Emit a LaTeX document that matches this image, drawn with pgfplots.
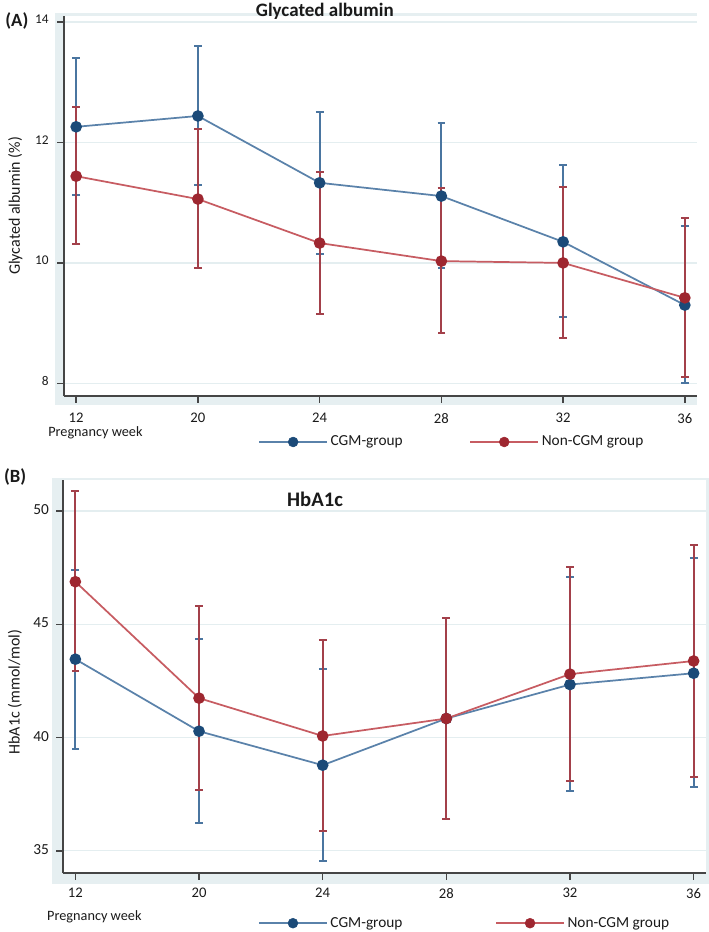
\documentclass[border=0pt]{standalone}
\usepackage{pgfplots}
\pgfplotsset{compat=1.18}
\usepackage{pgfplotstable}
\usepackage{fontspec}
\setmainfont{Carlito}

\definecolor{cgmL}{HTML}{5A82AA}
\definecolor{cgmM}{HTML}{1B4A78}
\definecolor{cgmE}{HTML}{4A75A0}
\definecolor{nonL}{HTML}{C75C62}
\definecolor{nonM}{HTML}{9E2730}
\definecolor{nonE}{HTML}{A3404A}
\definecolor{band}{HTML}{E6EFF1}
\definecolor{gridc}{HTML}{E4EEF0}
\definecolor{axc}{HTML}{454545}
\definecolor{txt}{HTML}{1A1A1A}

% columns: week index, mean, lower, upper
\pgfplotstableread{
x y lo hi
0 12.26 11.13 13.40
1 12.44 11.29 13.60
2 11.33 10.15 12.50
3 11.11 9.91 12.32
4 10.35 9.11 11.62
5 9.30 8.00 10.62
}\gaCGM
\pgfplotstableread{
x y lo hi
0 11.44 10.32 12.59
1 11.06 9.91 12.22
2 10.33 9.16 11.51
3 10.03 8.83 11.25
4 10.00 8.76 11.26
5 9.42 8.11 10.75
}\gaNon
\pgfplotstableread{
x y lo hi
0 43.46 39.49 47.38
1 40.28 36.22 44.37
2 38.78 34.56 43.04
3 40.84 36.40 45.29
4 42.34 37.65 47.08
5 42.84 37.80 47.91
}\hbCGM
\pgfplotstableread{
x y lo hi
0 46.88 42.95 50.87
1 41.74 37.69 45.82
2 40.07 35.87 44.32
3 40.84 36.40 45.29
4 42.80 38.06 47.54
5 43.38 38.28 48.49
}\hbNon

\pgfplotsset{
  panel/.style={
    scale only axis,
    axis x line*=bottom, axis y line*=left,
    axis line style={axc, line width=1.1pt},
    every tick/.style={axc, line width=1.1pt},
    tick align=outside, major tick length=5pt,
    axis background/.style={fill=white},
    ymajorgrids, grid style={gridc, line width=1pt},
    xtick={0,...,5}, xticklabels={12,20,24,28,32,36},
    xmin=-0.1, xmax=5.1,
    /pgf/number format/assume math mode=true,
    tick label style={txt},
    ylabel style={txt, font=\fontsize{12}{14}\selectfont, anchor=center},
    clip=false,
  },
  grp/.style n args={3}{forget plot, color=#1, line width=1.3pt,
    mark=*, mark size=3.7pt, mark options={fill=#2, draw=#2},
    error bars/.cd, y dir=both, y explicit,
    error bar style={color=#3, line width=1.5pt},
    error mark options={color=#3, line width=1.5pt, mark size=2.9pt, rotate=90}},
  table/errtab/.style={x=x, y=y,
    y error plus expr=\thisrow{hi}-\thisrow{y},
    y error minus expr=\thisrow{y}-\thisrow{lo}},
  leg/.style={legend style={draw=none, fill=none, inner sep=0pt,
    legend columns=2, font=\fontsize{11.5}{13}\selectfont, text=txt}},
}

\begin{document}
\begin{tikzpicture}
\useasboundingbox (0pt,0pt) rectangle (531.75pt,-699pt);
\fill[band] (41.25pt,-9.75pt) rectangle (522.75pt,-303.75pt);
\fill[band] (39pt,-358.5pt) rectangle (531.75pt,-663pt);

% (A) Glycated albumin
\begin{axis}[panel, leg,
  at={(48pt,-297pt)}, anchor=south west,
  width=474.75pt, height=285pt,
  ymin=7.79, ymax=14.1, ytick={8,10,12,14},
  xticklabel style={font=\fontsize{11}{13}\selectfont, yshift=-4.5pt},
  yticklabel style={font=\fontsize{10}{12}\selectfont, xshift=-3pt, yshift=2pt},
  ylabel={Glycated albumin (\%)},
  ylabel style={at={(axis description cs:-0.077,0.5)}},
  legend style={at={(axis description cs:0.3065,-0.121)}, anchor=west,
    /tikz/every even column/.append style={column sep=48pt}},
]
\addplot[grp={cgmL}{cgmM}{cgmE}] table[errtab] {\gaCGM};
\addplot[grp={nonL}{nonM}{nonE}] table[errtab] {\gaNon};
\addlegendimage{legend image code/.code={\draw[cgmL, line width=1.3pt] (0pt,0pt) -- (51pt,0pt); \fill[cgmM] (25.5pt,0pt) circle (3.7pt);}}
\addlegendentry{CGM-group}
\addlegendimage{legend image code/.code={\draw[nonL, line width=1.3pt] (0pt,0pt) -- (51pt,0pt); \fill[nonM] (25.5pt,0pt) circle (3.7pt);}}
\addlegendentry{Non-CGM group}
\node[font=\bfseries\fontsize{14.25}{16}\selectfont, txt] at (axis description cs:0.412,1.011) {Glycated albumin};
\node[font=\fontsize{10.7}{12}\selectfont, txt, anchor=west, inner sep=0pt] at (axis description cs:-0.0253,-0.097) {Pregnancy week};
\node[font=\bfseries\fontsize{14}{16}\selectfont, txt, anchor=west, inner sep=0pt] at (axis description cs:-0.093,0.987) {(A)};
\end{axis}

% (B) HbA1c
\begin{axis}[panel, leg,
  at={(47.25pt,-654.75pt)}, anchor=south west,
  width=482.25pt, height=294.75pt,
  ymin=34.02, ymax=51.37, ytick={35,40,45,50},
  xticklabel style={font=\fontsize{11}{13}\selectfont, yshift=-3pt},
  yticklabel style={font=\fontsize{11.5}{13}\selectfont, xshift=-2pt, yshift=1pt},
  ylabel={HbA1c (mmol/mol)},
  ylabel style={at={(axis description cs:-0.075,0.46)}},
  legend style={at={(axis description cs:0.303,-0.1277)}, anchor=west,
    /tikz/every even column/.append style={column sep=67.5pt}},
]
\addplot[grp={cgmL}{cgmM}{cgmE}] table[errtab] {\hbCGM};
\addplot[grp={nonL}{nonM}{nonE}] table[errtab] {\hbNon};
\addlegendimage{legend image code/.code={\draw[cgmL, line width=1.3pt] (0pt,0pt) -- (51pt,0pt); \fill[cgmM] (25.5pt,0pt) circle (3.7pt);}}
\addlegendentry{CGM-group}
\addlegendimage{legend image code/.code={\draw[nonL, line width=1.3pt] (0pt,0pt) -- (51pt,0pt); \fill[nonM] (25.5pt,0pt) circle (3.7pt);}}
\addlegendentry{Non-CGM group}
\node[font=\bfseries\fontsize{15.5}{17}\selectfont, txt] at (axis description cs:0.392,0.952) {HbA1c};
\node[font=\fontsize{10.7}{12}\selectfont, txt, anchor=west, inner sep=0pt] at (axis description cs:-0.025,-0.112) {Pregnancy week};
\node[font=\bfseries\fontsize{14}{16}\selectfont, txt, anchor=west, inner sep=0pt] at (axis description cs:-0.092,1.008) {(B)};
\end{axis}
\end{tikzpicture}
\end{document}
